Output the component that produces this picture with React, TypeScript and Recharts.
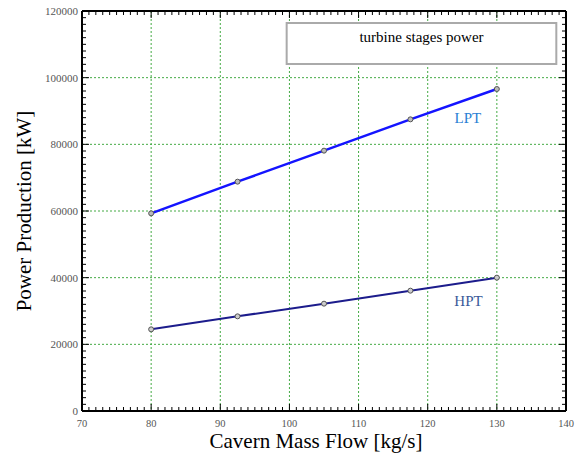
import { LineChart, Line, XAxis, YAxis, CartesianGrid, ReferenceArea, ReferenceDot, Label } from "recharts";

const massFlow = [80, 92.5, 105, 117.5, 130];
const lptPower = [59300, 68800, 78100, 87500, 96600];
const hptPower = [24500, 28400, 32200, 36100, 40000];
const xTicks = [70, 80, 90, 100, 110, 120, 130, 140];
const yTicks = [0, 20000, 40000, 60000, 80000, 100000, 120000];
const xMinorTicks = Array.from({ length: 71 }, (_, i) => 70 + i);
const yMinorTicks = Array.from({ length: 61 }, (_, i) => i * 2000);

const data = massFlow.map((x, i) => ({ x, lpt: lptPower[i], hpt: hptPower[i] }));

const FONT = '"Liberation Serif", "Times New Roman", serif';

const BottomTick = ({ x, y, payload }: any) => {
  const major = payload.value % 10 === 0;
  return (
    <g>
      <line x1={x} x2={x} y1={y} y2={y - (major ? 7 : 4)} stroke="#000" />
      {major && (
        <text x={x} y={y + 16} textAnchor="middle" fontSize={10.5} fill="#555" fontFamily={FONT}>
          {payload.value}
        </text>
      )}
    </g>
  );
};

const TopTick = ({ x, y, payload }: any) => {
  const major = payload.value % 10 === 0;
  return <line x1={x} x2={x} y1={y} y2={y + (major ? 7 : 4)} stroke="#000" />;
};

const LeftTick = ({ x, y, payload }: any) => {
  const major = payload.value % 20000 === 0;
  return (
    <g>
      <line x1={x} x2={x + (major ? 7 : 4)} y1={y} y2={y} stroke="#000" />
      {major && (
        <text x={x - 4} y={y + 4} textAnchor="end" fontSize={11} fill="#555" fontFamily={FONT}>
          {payload.value}
        </text>
      )}
    </g>
  );
};

const RightTick = ({ x, y, payload }: any) => {
  const major = payload.value % 20000 === 0;
  return <line x1={x} x2={x - (major ? 7 : 4)} y1={y} y2={y} stroke="#000" />;
};

const YTitle = ({ viewBox }: any) => {
  const cx = viewBox.x + 24;
  const cy = viewBox.y + viewBox.height / 2;
  return (
    <text
      x={cx}
      y={cy}
      transform={`rotate(-90 ${cx} ${cy})`}
      textAnchor="middle"
      dominantBaseline="central"
      fontSize={21}
      fill="#000"
      fontFamily={FONT}
    >
      Power Production [kW]
    </text>
  );
};

const XTitle = ({ viewBox }: any) => (
  <text
    x={viewBox.x + viewBox.width / 2 - 8}
    y={viewBox.y + viewBox.height - 11}
    textAnchor="middle"
    fontSize={21}
    fill="#000"
    fontFamily={FONT}
  >
    Cavern Mass Flow [kg/s]
  </text>
);

export default function App() {
  return (
    <div style={{ width: 577, height: 459, background: "#fff" }}>
      <style>{"body{margin:0}"}</style>
      <LineChart width={577} height={459} data={data} margin={{ top: 10, right: 10, left: 0, bottom: 0 }}>
        <CartesianGrid stroke="#44aa44" strokeDasharray="2 2" />
        <XAxis xAxisId={0} dataKey="x" type="number" domain={[70, 140]} ticks={xTicks} height={0} hide />
        <YAxis yAxisId={0} type="number" domain={[0, 120000]} ticks={yTicks} width={0} hide />
        <XAxis
          xAxisId="bottom"
          dataKey="x"
          orientation="bottom"
          type="number"
          domain={[70, 140]}
          allowDataOverflow
          ticks={xMinorTicks}
          interval={0}
          height={48}
          tickSize={0}
          tickMargin={0}
          tickLine={false}
          tick={BottomTick}
          axisLine={{ stroke: "#000", strokeWidth: 2 }}
        >
          <Label content={XTitle} />
        </XAxis>
        <XAxis
          xAxisId="top"
          dataKey="x"
          orientation="top"
          type="number"
          domain={[70, 140]}
          allowDataOverflow
          ticks={xMinorTicks}
          interval={0}
          height={1}
          tickSize={0}
          tickMargin={0}
          tickLine={false}
          tick={TopTick}
          axisLine={{ stroke: "#000", strokeWidth: 2 }}
        />
        <YAxis
          yAxisId="left"
          orientation="left"
          type="number"
          domain={[0, 120000]}
          allowDataOverflow
          ticks={yMinorTicks}
          interval={0}
          width={82}
          tickSize={0}
          tickMargin={0}
          tickLine={false}
          tick={LeftTick}
          axisLine={{ stroke: "#000", strokeWidth: 2 }}
        >
          <Label content={YTitle} />
        </YAxis>
        <YAxis
          yAxisId="right"
          orientation="right"
          type="number"
          domain={[0, 120000]}
          allowDataOverflow
          ticks={yMinorTicks}
          interval={0}
          width={1}
          tickSize={0}
          tickMargin={0}
          tickLine={false}
          tick={RightTick}
          axisLine={{ stroke: "#000", strokeWidth: 2 }}
        />
        <ReferenceArea
          x1={99.6}
          x2={138.6}
          y1={104100}
          y2={116400}
          fill="#fff"
          fillOpacity={1}
          stroke="#aaa"
          strokeWidth={2}
        >
          <Label
            value="turbine stages power"
            position="insideTop"
            offset={8}
            style={{ fontSize: 15, fill: "#000", fontFamily: FONT }}
          />
        </ReferenceArea>
        <Line
          dataKey="lpt"
          stroke="#1414ff"
          strokeWidth={2.5}
          dot={{ r: 2.5, fill: "#bbb", stroke: "#555", strokeWidth: 1 }}
          isAnimationActive={false}
        />
        <Line
          dataKey="hpt"
          stroke="#1c1c8c"
          strokeWidth={2}
          dot={{ r: 2.5, fill: "#ccc", stroke: "#555", strokeWidth: 1 }}
          isAnimationActive={false}
        />
        <ReferenceDot x={125.8} y={87900} r={0} fill="none" stroke="none">
          <Label value="LPT" position="center" style={{ fontSize: 15, fill: "#2a7fd4", fontFamily: FONT }} />
        </ReferenceDot>
        <ReferenceDot x={125.9} y={33000} r={0} fill="none" stroke="none">
          <Label value="HPT" position="center" style={{ fontSize: 15, fill: "#3a5a9a", fontFamily: FONT }} />
        </ReferenceDot>
      </LineChart>
    </div>
  );
}
